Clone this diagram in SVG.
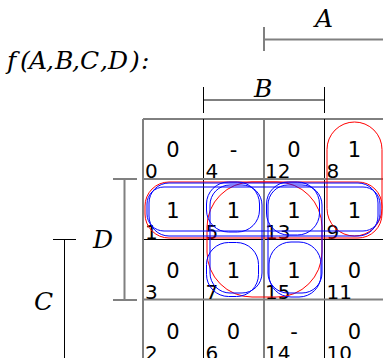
<svg xmlns="http://www.w3.org/2000/svg" width="383" height="358" viewBox="0 0 383 358">
<style>
.m{font-family:"DejaVu Serif",serif;font-style:italic;font-size:25px;fill:#000}
.v{font-family:"DejaVu Sans",sans-serif;font-size:21px;fill:#000;text-anchor:middle}
.i{font-family:"DejaVu Sans",sans-serif;font-size:20px;fill:#000}
.g{stroke:#808080;stroke-width:2;fill:none}
.k{stroke:#000;stroke-width:1;fill:none}
.r{stroke:#ff0000;stroke-width:1;fill:none}
.b{stroke:#0000ff;stroke-width:1;fill:none}
</style>
<rect width="383" height="358" fill="#fff"/>
<g id="title"><text class="m" y="69"><tspan x="7">f</tspan><tspan x="20">(</tspan><tspan x="29">A</tspan><tspan x="46">,</tspan><tspan x="55">B</tspan><tspan x="72">,</tspan><tspan x="80">C</tspan><tspan x="100">,</tspan><tspan x="108">D</tspan><tspan x="130">)</tspan><tspan x="141">:</tspan></text></g>
<g id="brackets">
<path class="g" d="M264 27V51M264 39.5H383"/>
<text class="m" x="315" y="27">A</text>
<path class="k" d="M203.5 87V113M324.5 87V113M203.5 100H324.5"/>
<text class="m" x="254" y="97">B</text>
<path class="g" d="M124.5 179V300M113 179H137M113 300H137"/>
<text class="m" x="93" y="248">D</text>
<path class="k" d="M64.5 239.5V358M53 239.5H76"/>
<text class="m" x="34" y="310">C</text>
</g>
<g id="grid">
<path class="k" d="M143 119H383M143 239.5H383M203.5 119V358M324.5 119V358"/>
<path class="g" d="M143 119V358M264 119V358M143 179H383M143 299.5H383"/>
</g>
<g id="cells">
<text class="v" x="173" y="157">0</text><text class="i" x="145" y="178">0</text>
<text class="v" x="233.5" y="157">-</text><text class="i" x="205.5" y="178">4</text>
<text class="v" x="294" y="157">0</text><text class="i" x="265" y="178">12</text>
<text class="v" x="354.5" y="157">1</text><text class="i" x="326.5" y="178">8</text>
<text class="v" x="173" y="217.5">1</text><text class="i" x="145" y="238.5">1</text>
<text class="v" x="233.5" y="217.5">1</text><text class="i" x="205.5" y="238.5">5</text>
<text class="v" x="294" y="217.5">1</text><text class="i" x="265" y="238.5">13</text>
<text class="v" x="354.5" y="217.5">1</text><text class="i" x="326.5" y="238.5">9</text>
<text class="v" x="173" y="278">0</text><text class="i" x="145" y="299">3</text>
<text class="v" x="233.5" y="278">1</text><text class="i" x="205.5" y="299">7</text>
<text class="v" x="294" y="278">1</text><text class="i" x="265" y="299">15</text>
<text class="v" x="354.5" y="278">0</text><text class="i" x="326.5" y="299">11</text>
<text class="v" x="173" y="338.5">0</text><text class="i" x="145" y="359.5">2</text>
<text class="v" x="233.5" y="338.5">0</text><text class="i" x="205.5" y="359.5">6</text>
<text class="v" x="294" y="338.5">-</text><text class="i" x="265" y="359.5">14</text>
<text class="v" x="354.5" y="338.5">0</text><text class="i" x="326.5" y="359.5">10</text>
</g>
<g id="loops">
<rect class="r" x="327" y="122" width="55" height="114" rx="27.5"/>
<rect class="r" x="145" y="182" width="237" height="56" rx="24"/>
<rect class="r" x="207" y="182" width="115" height="115" rx="45"/>
<rect class="b" x="147" y="187" width="233" height="44" rx="17"/>
<rect class="b" x="149" y="183" width="229" height="53" rx="20"/>
<rect class="b" x="206.5" y="182" width="53" height="50" rx="22"/>
<rect class="b" x="266.5" y="182" width="53" height="53" rx="22"/>
<rect class="b" x="206.5" y="242.5" width="52" height="54" rx="22"/>
<rect class="b" x="269" y="242" width="52" height="55" rx="22"/>
<rect class="b" x="210" y="185" width="52" height="108" rx="20"/>
<rect class="b" x="268" y="185" width="54" height="108" rx="20"/>
</g>
</svg>
